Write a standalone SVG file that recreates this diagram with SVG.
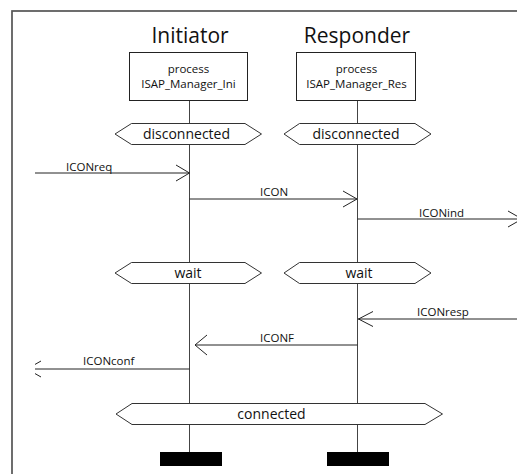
<svg xmlns="http://www.w3.org/2000/svg" width="517" height="474" viewBox="0 0 517 474">
  <style>
    text { font-family: "Open Sans", "Noto Sans", "Liberation Sans", sans-serif; fill: #111; }
    .title { font-size: 21px; text-anchor: middle; }
    .proc { font-size: 11.5px; text-anchor: middle; }
    .cond { font-size: 14px; text-anchor: middle; }
    .msg { font-size: 11.5px; }
    .box { fill: #fff; stroke: #222; stroke-width: 1; }
    .hex { fill: #fff; stroke: #333; stroke-width: 1; }
    .life { stroke: #444; stroke-width: 1; fill: none; }
    .sig { stroke: #222; stroke-width: 1; fill: none; }
    .stop { fill: #000; }
  </style>
  <defs>
    <clipPath id="env">
      <rect x="35" y="0" width="482" height="474"/>
    </clipPath>
  </defs>
  <rect width="517" height="474" fill="#fff"/>
  <!-- outer frame, continues past the right and bottom edges -->
  <rect x="12" y="11" width="600" height="600" fill="none" stroke="#555" stroke-width="1.7"/>

  <!-- lifelines -->
  <g id="lifelines">
    <line class="life" x1="189.5" y1="101" x2="189.5" y2="452"/>
    <line class="life" x1="357.5" y1="101" x2="357.5" y2="452"/>
  </g>

  <g id="initiator">
    <text class="title" x="190" y="42.5">Initiator</text>
    <rect class="box" x="129.5" y="52.5" width="118" height="48"/>
    <text class="proc" x="188.5" y="72.5">process</text>
    <text class="proc" x="188.5" y="88">ISAP_Manager_Ini</text>
  </g>
  <g id="responder">
    <text class="title" x="357" y="42.5">Responder</text>
    <rect class="box" x="296.5" y="52.5" width="119" height="48"/>
    <text class="proc" x="356.5" y="72.5">process</text>
    <text class="proc" x="356.5" y="88">ISAP_Manager_Res</text>
  </g>

  <g id="ini-disconnected">
    <polygon class="hex" points="115,134 131.5,123.5 245,123.5 261.5,134 245,144.5 131.5,144.5"/>
    <text class="cond" x="186.5" y="139">disconnected</text>
  </g>
  <g id="res-disconnected">
    <polygon class="hex" points="284,134 299.5,123.5 415,123.5 431,134 415,144.5 299.5,144.5"/>
    <text class="cond" x="356" y="139">disconnected</text>
  </g>
  <g id="ini-wait">
    <polygon class="hex" points="115,273 131.5,262.5 245,262.5 261.5,273 245,283.5 131.5,283.5"/>
    <text class="cond" x="188" y="278">wait</text>
  </g>
  <g id="res-wait">
    <polygon class="hex" points="284,273 299.5,262.5 415,262.5 431,273 415,283.5 299.5,283.5"/>
    <text class="cond" x="359" y="278">wait</text>
  </g>
  <g id="connected">
    <polygon class="hex" points="116,414 132,403.5 425,403.5 442.5,414 425,424.5 132,424.5"/>
    <text class="cond" x="271.5" y="419">connected</text>
  </g>

  <g id="stops">
    <rect class="stop" x="160" y="452" width="62" height="14"/>
    <rect class="stop" x="327" y="452" width="62" height="14"/>
  </g>

  <!-- signals -->
  <g id="connectors">
    <g id="m-iconreq">
      <line class="sig" x1="35" y1="173" x2="189.5" y2="173"/>
      <polyline class="sig" points="176,165 189.5,173 176,181"/>
      <text class="msg" x="66" y="170.5">ICONreq</text>
    </g>
    <g id="m-icon">
      <line class="sig" x1="189.5" y1="199" x2="357" y2="199"/>
      <polyline class="sig" points="343,191 357,199 343,207"/>
      <text class="msg" x="260" y="195.5">ICON</text>
    </g>
    <g id="m-iconind">
      <line class="sig" x1="357.5" y1="219" x2="522" y2="219"/>
      <polyline class="sig" points="508,211 522,219 508,227"/>
      <text class="msg" x="419" y="216.5">ICONind</text>
    </g>
    <g id="m-iconresp">
      <line class="sig" x1="358" y1="319" x2="520" y2="319"/>
      <polyline class="sig" points="373,311.5 358.5,319 373,326.5"/>
      <text class="msg" x="417" y="315.5">ICONresp</text>
    </g>
    <g id="m-iconf">
      <line class="sig" x1="195" y1="345" x2="357.5" y2="345"/>
      <polyline class="sig" points="207,335 195,345 207,355"/>
      <text class="msg" x="260" y="342">ICONF</text>
    </g>
    <g id="m-iconconf" clip-path="url(#env)">
      <line class="sig" x1="27" y1="369" x2="189.5" y2="369"/>
      <polyline class="sig" points="41,361 27,369 41,377"/>
    </g>
    <text class="msg" x="83" y="365">ICONconf</text>
  </g>
</svg>
